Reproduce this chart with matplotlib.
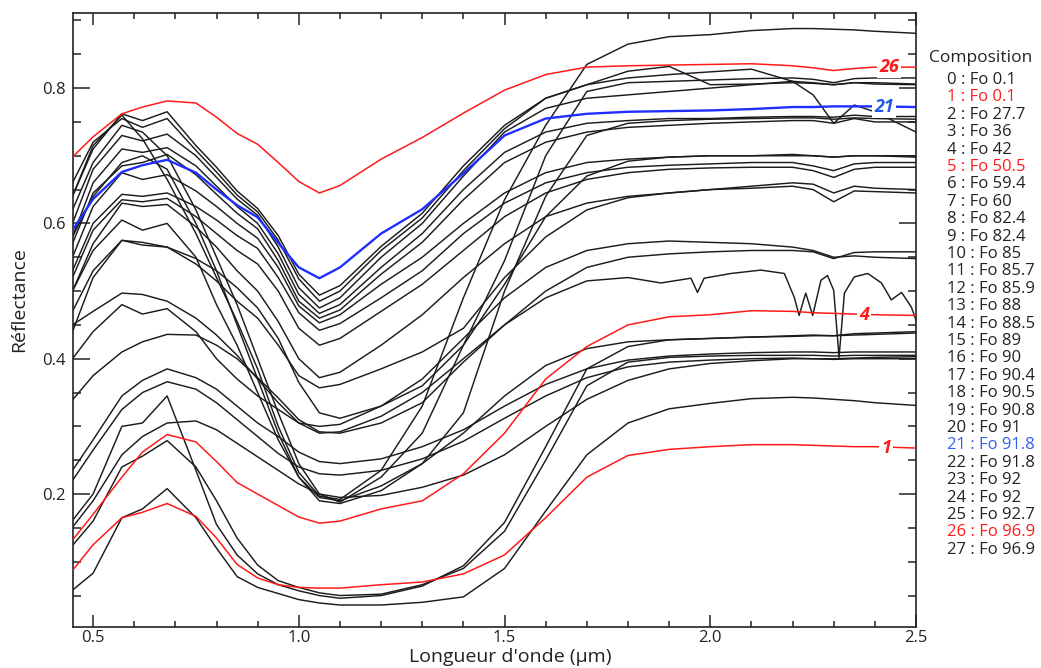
import matplotlib
matplotlib.use("Agg")
import matplotlib.pyplot as plt
from matplotlib.ticker import MultipleLocator, FixedLocator

plt.rcParams['font.family'] = ['Open Sans', 'DejaVu Sans']

# ---------------- data ----------------
wavelength = [0.45, 0.50, 0.57, 0.62, 0.68, 0.75, 0.80, 0.85, 0.90, 0.95,
              1.00, 1.05, 1.10, 1.20, 1.30, 1.40, 1.50, 1.60, 1.70, 1.80,
              1.90, 2.00, 2.10, 2.20, 2.25, 2.30, 2.35, 2.40, 2.50]

red_26 = [0.698, 0.728, 0.762, 0.772, 0.781, 0.778, 0.757, 0.733, 0.717, 0.690,
          0.662, 0.645, 0.656, 0.695, 0.727, 0.763, 0.797, 0.820, 0.831, 0.833,
          0.834, 0.835, 0.836, 0.833, 0.830, 0.826, 0.829, 0.831, 0.831]
blue_21 = [0.590, 0.636, 0.676, 0.686, 0.694, 0.675, 0.650, 0.627, 0.609, 0.571,
           0.535, 0.519, 0.535, 0.585, 0.621, 0.674, 0.730, 0.755, 0.762, 0.765,
           0.766, 0.767, 0.769, 0.772, 0.772, 0.773, 0.773, 0.773, 0.772]
red_4 = [0.132, 0.170, 0.225, 0.262, 0.288, 0.277, 0.248, 0.217, 0.200, 0.183,
         0.166, 0.157, 0.160, 0.178, 0.190, 0.230, 0.290, 0.370, 0.418, 0.450,
         0.462, 0.465, 0.471, 0.470, 0.468, 0.467, 0.466, 0.465, 0.464]
red_1 = [0.087, 0.125, 0.165, 0.173, 0.186, 0.167, 0.135, 0.096, 0.076, 0.066,
         0.062, 0.061, 0.061, 0.066, 0.070, 0.082, 0.110, 0.165, 0.225, 0.257,
         0.266, 0.270, 0.273, 0.273, 0.272, 0.271, 0.270, 0.270, 0.268]

black_v1 = [0.640, 0.715, 0.760, 0.725, 0.665, 0.585, 0.520, 0.455, 0.385, 0.300,
            0.232, 0.197, 0.192, 0.235, 0.330, 0.490, 0.635, 0.745, 0.835, 0.865,
            0.876, 0.879, 0.885, 0.888, 0.888, 0.887, 0.886, 0.884, 0.881]
black_v2 = [0.620, 0.690, 0.745, 0.735, 0.700, 0.620, 0.550, 0.480, 0.400, 0.320,
            0.245, 0.200, 0.188, 0.225, 0.290, 0.420, 0.545, 0.700, 0.795, 0.808,
            0.810, 0.812, 0.814, 0.815, 0.813, 0.808, 0.814, 0.815, 0.815]
black_v3 = [0.580, 0.640, 0.690, 0.700, 0.680, 0.600, 0.530, 0.450, 0.370, 0.290,
            0.225, 0.190, 0.186, 0.205, 0.245, 0.320, 0.500, 0.640, 0.730, 0.748,
            0.752, 0.754, 0.755, 0.756, 0.756, 0.754, 0.756, 0.755, 0.754]
black_v4 = [0.500, 0.560, 0.605, 0.590, 0.600, 0.550, 0.480, 0.420, 0.350, 0.280,
            0.225, 0.195, 0.190, 0.212, 0.245, 0.290, 0.345, 0.390, 0.415, 0.425,
            0.428, 0.430, 0.432, 0.434, 0.435, 0.434, 0.437, 0.438, 0.440]
black_m1 = [0.640, 0.710, 0.762, 0.752, 0.765, 0.715, 0.683, 0.648, 0.622, 0.582,
            0.525, 0.494, 0.508, 0.566, 0.615, 0.685, 0.745, 0.785, 0.805, 0.825,
            0.832, 0.805, 0.806, 0.808, 0.807, 0.805, 0.808, 0.808, 0.806]
black_m2 = [0.660, 0.720, 0.755, 0.742, 0.755, 0.708, 0.676, 0.642, 0.617, 0.575,
            0.518, 0.485, 0.500, 0.560, 0.608, 0.678, 0.740, 0.785, 0.805, 0.815,
            0.820, 0.824, 0.828, 0.810, 0.790, 0.748, 0.775, 0.765, 0.735]
black_m3 = [0.600, 0.680, 0.730, 0.722, 0.732, 0.700, 0.668, 0.636, 0.612, 0.565,
            0.505, 0.475, 0.490, 0.550, 0.600, 0.670, 0.735, 0.770, 0.785, 0.790,
            0.795, 0.800, 0.805, 0.810, 0.808, 0.805, 0.808, 0.806, 0.805]
black_m4 = [0.580, 0.660, 0.710, 0.705, 0.712, 0.685, 0.655, 0.625, 0.600, 0.555,
            0.495, 0.467, 0.480, 0.535, 0.585, 0.650, 0.705, 0.735, 0.748, 0.752,
            0.755, 0.755, 0.757, 0.758, 0.758, 0.757, 0.760, 0.758, 0.758]
black_m5 = [0.570, 0.645, 0.685, 0.690, 0.702, 0.672, 0.643, 0.615, 0.592, 0.545,
            0.485, 0.460, 0.472, 0.525, 0.572, 0.635, 0.690, 0.720, 0.735, 0.742,
            0.745, 0.748, 0.750, 0.752, 0.752, 0.748, 0.755, 0.750, 0.750]
black_m6 = [0.550, 0.625, 0.675, 0.665, 0.672, 0.648, 0.625, 0.600, 0.578, 0.535,
            0.478, 0.453, 0.465, 0.510, 0.550, 0.600, 0.645, 0.675, 0.690, 0.695,
            0.698, 0.700, 0.700, 0.702, 0.700, 0.698, 0.700, 0.700, 0.698]
black_m7 = [0.530, 0.600, 0.643, 0.640, 0.645, 0.625, 0.605, 0.582, 0.563, 0.520,
            0.468, 0.442, 0.452, 0.490, 0.530, 0.585, 0.630, 0.660, 0.675, 0.683,
            0.686, 0.688, 0.690, 0.690, 0.685, 0.678, 0.688, 0.690, 0.690]
black_m8 = [0.520, 0.590, 0.635, 0.632, 0.637, 0.610, 0.585, 0.560, 0.540, 0.500,
            0.445, 0.420, 0.430, 0.470, 0.510, 0.560, 0.610, 0.645, 0.665, 0.675,
            0.680, 0.682, 0.683, 0.683, 0.678, 0.668, 0.680, 0.683, 0.683]
black_n1 = [0.500, 0.570, 0.630, 0.625, 0.628, 0.595, 0.565, 0.530, 0.500, 0.455,
            0.400, 0.372, 0.380, 0.420, 0.465, 0.520, 0.570, 0.610, 0.630, 0.640,
            0.645, 0.650, 0.655, 0.660, 0.658, 0.645, 0.655, 0.652, 0.650]
black_n2 = [0.470, 0.530, 0.575, 0.568, 0.565, 0.540, 0.515, 0.485, 0.460, 0.420,
            0.375, 0.357, 0.362, 0.385, 0.410, 0.445, 0.520, 0.580, 0.620, 0.638,
            0.645, 0.650, 0.652, 0.655, 0.650, 0.632, 0.648, 0.647, 0.645]
black_k = [0.440, 0.520, 0.575, 0.572, 0.565, 0.548, 0.530, 0.505, 0.475, 0.430,
           0.365, 0.320, 0.312, 0.330, 0.360, 0.420, 0.510, 0.610, 0.670, 0.692,
           0.698, 0.700, 0.700, 0.700, 0.700, 0.698, 0.700, 0.700, 0.700]
black_g1 = [0.450, 0.470, 0.497, 0.495, 0.485, 0.460, 0.435, 0.405, 0.370, 0.335,
            0.305, 0.290, 0.292, 0.315, 0.350, 0.400, 0.450, 0.500, 0.535, 0.550,
            0.555, 0.558, 0.560, 0.560, 0.558, 0.548, 0.557, 0.558, 0.558]
black_g2 = [0.400, 0.440, 0.480, 0.466, 0.474, 0.440, 0.400, 0.370, 0.345, 0.325,
            0.305, 0.300, 0.303, 0.330, 0.370, 0.430, 0.490, 0.535, 0.560, 0.570,
            0.574, 0.572, 0.570, 0.565, 0.560, 0.550, 0.552, 0.550, 0.548]
black_g4 = [0.235, 0.280, 0.345, 0.368, 0.385, 0.372, 0.355, 0.330, 0.305, 0.285,
            0.262, 0.248, 0.245, 0.252, 0.270, 0.295, 0.330, 0.362, 0.385, 0.398,
            0.404, 0.407, 0.409, 0.410, 0.410, 0.409, 0.410, 0.410, 0.410]
black_g5 = [0.220, 0.265, 0.325, 0.350, 0.366, 0.355, 0.335, 0.310, 0.285, 0.260,
            0.240, 0.230, 0.228, 0.235, 0.252, 0.278, 0.312, 0.345, 0.372, 0.388,
            0.395, 0.398, 0.400, 0.401, 0.400, 0.399, 0.400, 0.400, 0.400]
black_g6 = [0.151, 0.190, 0.258, 0.285, 0.305, 0.308, 0.295, 0.275, 0.255, 0.235,
            0.215, 0.200, 0.195, 0.198, 0.210, 0.228, 0.258, 0.300, 0.340, 0.368,
            0.385, 0.393, 0.397, 0.400, 0.400, 0.400, 0.401, 0.402, 0.403]
black_f1 = [0.058, 0.083, 0.165, 0.178, 0.208, 0.165, 0.120, 0.078, 0.062, 0.053,
            0.044, 0.039, 0.036, 0.036, 0.040, 0.048, 0.090, 0.175, 0.258, 0.305,
            0.326, 0.334, 0.341, 0.343, 0.342, 0.340, 0.338, 0.335, 0.331]
black_f2 = [0.124, 0.160, 0.240, 0.256, 0.279, 0.240, 0.190, 0.135, 0.095, 0.072,
            0.062, 0.054, 0.050, 0.052, 0.066, 0.090, 0.145, 0.250, 0.360, 0.395,
            0.402, 0.404, 0.405, 0.405, 0.405, 0.404, 0.405, 0.405, 0.405]
black_f3 = [0.161, 0.200, 0.300, 0.305, 0.345, 0.235, 0.155, 0.110, 0.082, 0.066,
            0.057, 0.050, 0.046, 0.050, 0.064, 0.094, 0.158, 0.270, 0.385, 0.418,
            0.428, 0.430, 0.432, 0.433, 0.434, 0.434, 0.435, 0.436, 0.438]

# the spectrum with narrow absorption features (own wavelength sampling)
noisy_wavelength = [0.45, 0.50, 0.57, 0.62, 0.68, 0.75, 0.80, 0.85, 0.90, 0.95,
                    1.00, 1.05, 1.10, 1.20, 1.30, 1.40, 1.50, 1.60, 1.70, 1.80,
                    1.88, 1.953, 1.969, 1.985, 2.05, 2.123, 2.18, 2.204, 2.216, 2.232,
                    2.249, 2.269, 2.285, 2.30, 2.313, 2.326, 2.35, 2.383, 2.416, 2.44,
                    2.465, 2.489, 2.50]
noisy_values = [0.339, 0.375, 0.410, 0.425, 0.436, 0.435, 0.420, 0.400, 0.372, 0.342,
                0.310, 0.292, 0.290, 0.305, 0.335, 0.395, 0.450, 0.490, 0.515, 0.520,
                0.512, 0.519, 0.498, 0.519, 0.526, 0.531, 0.526, 0.491, 0.464, 0.497,
                0.464, 0.516, 0.523, 0.501, 0.402, 0.497, 0.521, 0.526, 0.512, 0.487,
                0.498, 0.476, 0.457]

legend_labels = ["0 : Fo 0.1", "1 : Fo 0.1", "2 : Fo 27.7", "3 : Fo 36", "4 : Fo 42",
                 "5 : Fo 50.5", "6 : Fo 59.4", "7 : Fo 60", "8 : Fo 82.4", "9 : Fo 82.4",
                 "10 : Fo 85", "11 : Fo 85.7", "12 : Fo 85.9", "13 : Fo 88", "14 : Fo 88.5",
                 "15 : Fo 89", "16 : Fo 90", "17 : Fo 90.4", "18 : Fo 90.5", "19 : Fo 90.8",
                 "20 : Fo 91", "21 : Fo 91.8", "22 : Fo 91.8", "23 : Fo 92", "24 : Fo 92",
                 "25 : Fo 92.7", "26 : Fo 96.9", "27 : Fo 96.9"]
red_entries = [1, 5, 26]
blue_entries = [21]

curve_labels = ["26", "21", "4", "1"]
curve_label_x = [2.435, 2.422, 2.373, 2.427]
curve_label_y = [0.831, 0.772, 0.464, 0.268]

# ---------------- figure ----------------
W, H = 1041, 668
fig = plt.figure(figsize=(W / 100, H / 100), dpi=100, facecolor='white')
ax = fig.add_axes([72.5 / W, 41 / H, 843.5 / W, 614 / H])

BLACK = '#1c1c1c'
RED = '#ff1a1a'
BLUE = '#1f2fff'

black_series = [black_v1, black_v2, black_v3, black_v4, black_m1, black_m2, black_m3,
                black_m4, black_m5, black_m6, black_m7, black_m8, black_n1, black_n2,
                black_k, black_g1, black_g2, black_g4, black_g5, black_g6,
                black_f1, black_f2, black_f3]
for s in black_series:
    ax.plot(wavelength, s, color=BLACK, lw=1.05, zorder=2, solid_joinstyle='round')
ax.plot(noisy_wavelength, noisy_values, color=BLACK, lw=1.05, zorder=2)

for s in (red_26, red_4, red_1):
    ax.plot(wavelength, s, color=RED, lw=1.1, zorder=3, solid_joinstyle='round')
ax.plot(wavelength, blue_21, color=BLUE, lw=1.7, zorder=4, solid_joinstyle='round')

label_colors = [RED, '#2255ee', RED, RED]
for t, x, y, c in zip(curve_labels, curve_label_x, curve_label_y, label_colors):
    ax.text(x, y, t, color=c, fontsize=13, fontweight='bold', fontstyle='italic',
            ha='center', va='center', zorder=6,
            bbox=dict(facecolor='white', edgecolor='none', pad=1.5))

ax.set_xlim(0.45, 2.5)
ax.set_ylim(0.0035, 0.911)

ax.xaxis.set_major_locator(FixedLocator([0.5, 1.0, 1.5, 2.0, 2.5]))
ax.xaxis.set_minor_locator(MultipleLocator(0.1))
ax.yaxis.set_major_locator(FixedLocator([0.2, 0.4, 0.6, 0.8]))
ax.yaxis.set_minor_locator(MultipleLocator(0.05))
ax.set_xticklabels(['0.5', '1.0', '1.5', '2.0', '2.5'])
ax.set_yticklabels(['0.2', '0.4', '0.6', '0.8'])

ax.tick_params(axis='both', which='both', direction='in', top=True, right=True,
               color='#222222', width=1.1, labelsize=12, labelcolor='#222222')
ax.tick_params(axis='x', which='major', length=8.5, pad=2.5)
ax.tick_params(axis='x', which='minor', length=4)
ax.tick_params(axis='y', which='major', length=12, pad=5)
ax.tick_params(axis='y', which='minor', length=6)
for sp in ax.spines.values():
    sp.set_linewidth(1.2)
    sp.set_color('#222222')

ax.set_xlabel("Longueur d'onde (µm)", fontsize=14, color='#222222')
ax.xaxis.set_label_coords((510 - 72.5) / 843.5, (627 - 648) / 614)
ax.set_ylabel("Réflectance", fontsize=14, color='#222222')
ax.yaxis.set_label_coords((28 - 72.5) / 843.5, (627 - 300) / 614)

# composition list on the right
fig.text(929 / W, 1 - 58 / H, "Composition", fontsize=12.5, color='#222222',
         ha='left', va='center')
for i, lab in enumerate(legend_labels):
    c = '#222222'
    if i in red_entries:
        c = RED
    elif i in blue_entries:
        c = '#3060f0'
    fig.text(947 / W, 1 - (80 + 17.4 * i) / H, lab, fontsize=12, color=c,
             ha='left', va='center')

fig.savefig("out.png", dpi=100, facecolor='white')
